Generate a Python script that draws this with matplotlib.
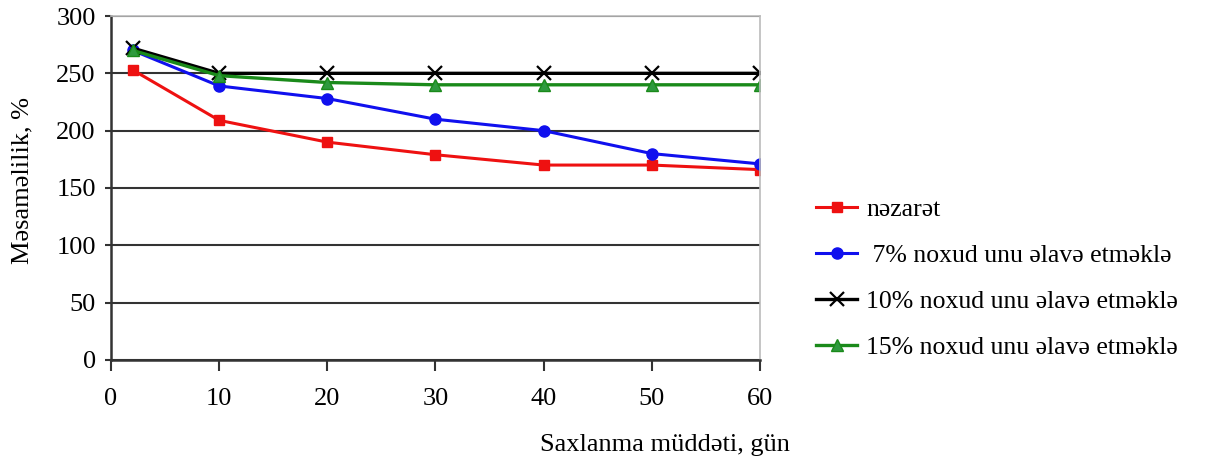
import matplotlib.pyplot as plt

days = [2, 10, 20, 30, 40, 50, 60]
control = [253, 209, 190, 179, 170, 170, 166]
chickpea_7 = [270, 239, 228, 210, 200, 180, 171]
chickpea_10 = [272, 250, 250, 250, 250, 250, 250]
chickpea_15 = [270, 248, 242, 240, 240, 240, 240]

labels = ['nəzarət',
          ' 7% noxud unu əlavə etməklə',
          '10% noxud unu əlavə etməklə',
          '15% noxud unu əlavə etməklə']

plt.rcParams['font.family'] = ['Liberation Serif', 'DejaVu Serif']

fig = plt.figure(figsize=(12.05, 4.68), dpi=100)
ax = fig.add_axes([0.0921, 0.2308, 0.5386, 0.735])

l1, = ax.plot(days, control, color='#ee1111', lw=2.2, marker='s', ms=7)
l2, = ax.plot(days, chickpea_7, color='#1010ee', lw=2.2, marker='o', ms=8)
l3, = ax.plot(days, chickpea_10, color='black', lw=2.4, marker='x', ms=10, mew=1.6)
l4, = ax.plot(days, chickpea_15, color='#1a8a1a', lw=2.4, marker='^', ms=9,
              mfc='#2e9a3e', mec='#1a8a1a')

ax.set_xlim(0, 60)
ax.set_ylim(0, 300)
ax.set_xticks(range(0, 61, 10))
ax.set_yticks(range(0, 301, 50))
ax.yaxis.grid(True, color='#333333', lw=1.5)
ax.set_axisbelow(True)

for side in ['left', 'bottom']:
    ax.spines[side].set_color('#333333')
    ax.spines[side].set_linewidth(1.8)
for side in ['top', 'right']:
    ax.spines[side].set_color('#bbbbbb')
    ax.spines[side].set_linewidth(1.2)

ax.tick_params(axis='x', direction='out', length=8, width=1.5, pad=12,
               labelsize=19, color='#333333')
ax.tick_params(axis='y', direction='out', length=4, width=1.5, pad=7,
               labelsize=19, color='#333333')

fig.text(0.552, 0.049, 'Saxlanma müddəti, gün', fontsize=19, ha='center', va='center')
fig.text(0.019, 0.615, 'Məsaməlilik, %', fontsize=19, rotation=90,
         ha='center', va='center')

fig.legend([l1, l2, l3, l4], labels, loc='upper left',
           bbox_to_anchor=(0.658, 0.627), frameon=False, fontsize=18.5,
           handlelength=1.6, handletextpad=0.35, labelspacing=0.9)

fig.savefig('out.png', dpi=100)
